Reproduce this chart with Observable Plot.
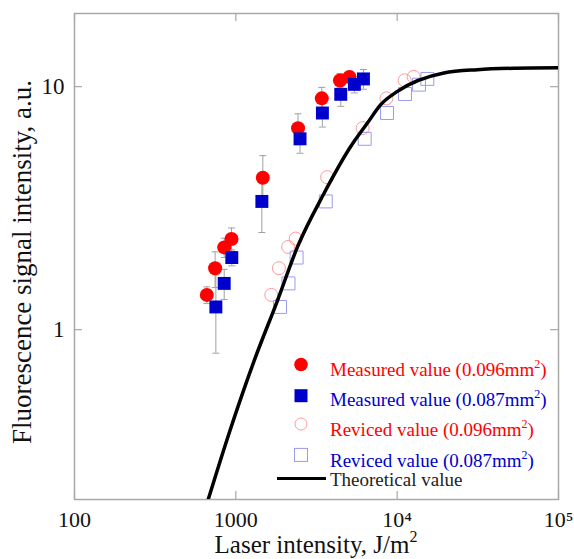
<!DOCTYPE html>
<html>
<head>
<meta charset="utf-8">
<script src="https://cdn.jsdelivr.net/npm/d3@7"></script>
<script src="https://cdn.jsdelivr.net/npm/@observablehq/plot@0.6"></script>
<style>
  html, body { margin: 0; padding: 0; background: #fff; }
  #wrap { position: relative; width: 574px; height: 559px; overflow: hidden; }
  #wrap svg.overlay { position: absolute; left: 0; top: 0; pointer-events: none; }
  text { font-family: "Liberation Serif", "Times New Roman", serif; }
</style>
</head>
<body>
<div id="wrap"></div>
<script>
// ---- data ----
const xMeas096 = [661, 744, 847, 940, 1470, 2430, 3410, 4420, 5060];
const yMeas096 = [1.39, 1.79, 2.18, 2.36, 4.22, 6.75, 8.95, 10.6, 10.97];
const eMeas096 = [0.11, 0.30, 0.20, 0.26, 0.98, 0.98, 0.98, 0.73, 0.6];

const xMeas087 = [752, 847, 944, 1450, 2500, 3440, 4470, 5430, 6180];
const yMeas087 = [1.24, 1.55, 1.98, 3.37, 6.10, 7.79, 9.30, 10.22, 10.76];
const eMeas087 = [0.44, 0.22, 0.15, 0.86, 0.78, 0.97, 1.0, 0.8, 1.0];

const xRev096 = [1660, 1850, 2110, 2350, 3680, 6110, 8580, 11130, 12650];
const yRev096 = [1.39, 1.79, 2.19, 2.37, 4.24, 6.75, 8.95, 10.62, 10.97];

const xRev087 = [1880, 2120, 2380, 3610, 6290, 8650, 11180, 13650, 15380];
const yRev087 = [1.24, 1.55, 1.98, 3.37, 6.10, 7.79, 9.33, 10.19, 10.76];

const xTheory = [671, 918, 1298, 1812, 2410, 3523, 5153, 6540, 7907, 10030, 19490, 31390, 52850, 100000];
const yTheory = [0.198, 0.383, 0.744, 1.318, 2.19, 3.64, 5.67, 7.08, 8.43, 9.56, 11.39, 11.75, 11.90, 11.95];

const xTicks = [100, 1000, 10000, 100000];
const xTickLabels = ["100", "1000", "10\u2074", "10\u2075"];
const yTicks = [1, 10];
const yTickLabels = ["1", "10"];

const legendLabels = ["Measured value (0.096mm", "Measured value (0.087mm", "Reviced value (0.096mm", "Reviced value (0.087mm", "Theoretical value"];
const xTitle = "Laser intensity, J/m";
const yTitle = "Fluorescence signal intensity, a.u.";

// ---- build tables ----
const meas096 = xMeas096.map((x, i) => ({x, y: yMeas096[i], e: eMeas096[i]}));
const meas087 = xMeas087.map((x, i) => ({x, y: yMeas087[i], e: eMeas087[i]}));
const rev096 = xRev096.map((x, i) => ({x, y: yRev096[i]}));
const rev087 = xRev087.map((x, i) => ({x, y: yRev087[i]}));
const theory = xTheory.map((x, i) => ({x, y: yTheory[i]}));

const RED = "#ff0000", BLUE = "#0000cc", LRED = "#ff9a9a", LBLUE = "#9a9af0", GREY = "#a8a8a8", ERR = "#a0a0a0";
const FONT = "'Liberation Serif', 'Times New Roman', serif";

const capSymbol = {
  draw(ctx, size) { const r = Math.sqrt(size / Math.PI); ctx.moveTo(-r, 0); ctx.lineTo(r, 0); }
};

const W = 574, H = 559, mL = 74, mR = 16, mT = 13, mB = 60;
const innerH = H - mT - mB, innerW = W - mL - mR;
const tickLen = 8;

const errMarks = (data) => [
  Plot.ruleX(data, {x: "x", y1: d => d.y - d.e, y2: d => d.y + d.e, stroke: ERR, strokeWidth: 1}),
  Plot.dot(data, {x: "x", y: d => d.y + d.e, symbol: capSymbol, r: 3.5, stroke: ERR, strokeWidth: 1}),
  Plot.dot(data, {x: "x", y: d => d.y - d.e, symbol: capSymbol, r: 3.5, stroke: ERR, strokeWidth: 1})
];

const chart = Plot.plot({
  width: W, height: H,
  marginLeft: mL, marginRight: mR, marginTop: mT, marginBottom: mB,
  x: {type: "log", domain: [100, 100000], axis: null},
  y: {type: "log", domain: [0.2, 20], axis: null},
  style: {fontFamily: FONT, background: "#fff", color: "#111"},
  marks: [
    Plot.frame({stroke: GREY, strokeWidth: 1.5}),
    Plot.tickX(xTicks, {x: d => d, insetTop: innerH - tickLen, stroke: GREY, strokeWidth: 1.2}),
    Plot.tickX(xTicks, {x: d => d, insetBottom: innerH - tickLen, stroke: GREY, strokeWidth: 1.2}),
    Plot.tickY(yTicks, {y: d => d, insetRight: innerW - tickLen, stroke: GREY, strokeWidth: 1.2}),
    Plot.tickY(yTicks, {y: d => d, insetLeft: innerW - tickLen, stroke: GREY, strokeWidth: 1.2}),
    Plot.text(xTicks, {x: d => d, text: (d, i) => xTickLabels[i], frameAnchor: "bottom", lineAnchor: "middle", dy: 20, fontSize: 22, fill: "#111"}),
    Plot.text(yTicks, {y: d => d, text: (d, i) => yTickLabels[i], frameAnchor: "left", textAnchor: "end", dx: -10, fontSize: 23, fill: "#111"}),
    ...errMarks(meas096),
    ...errMarks(meas087),
    Plot.dot(rev096, {x: "x", y: "y", r: 6.5, fill: "none", stroke: LRED, strokeWidth: 1}),
    Plot.dot(rev087, {x: "x", y: "y", symbol: "square", r: 7.3, fill: "none", stroke: LBLUE, strokeWidth: 1}),
    Plot.line(theory, {x: "x", y: "y", stroke: "#000", strokeWidth: 3.5, curve: "monotone-x", clip: true}),
    Plot.dot(meas096, {x: "x", y: "y", r: 7, fill: RED, stroke: "none"}),
    Plot.dot(meas087, {x: "x", y: "y", symbol: "square", r: 7.3, fill: BLUE, stroke: "none"})
  ]
});

const wrap = document.getElementById("wrap");
wrap.appendChild(chart);

// ---- overlay: axis titles and legend ----
const ov = d3.select(wrap).append("svg")
  .attr("class", "overlay").attr("width", W).attr("height", H)
  .style("font-family", FONT);

// x title
const xt = ov.append("text").attr("x", (mL + W - mR) / 2).attr("y", 553)
  .attr("text-anchor", "middle").attr("font-size", 25).attr("fill", "#111");
xt.append("tspan").text(xTitle);
xt.append("tspan").attr("font-size", 16).attr("dy", -11).text("2");

// y title
ov.append("text").attr("transform", `translate(31,262) rotate(-90)`)
  .attr("text-anchor", "middle").attr("font-size", 27).attr("fill", "#111").text(yTitle);

// legend
const lx = 301, tx = 330;
const rows = [
  {cy: 364.5, base: 375.5, color: RED, sym: "fcircle"},
  {cy: 395.7, base: 406, color: BLUE, sym: "fsquare"},
  {cy: 424, base: 436.3, color: RED, sym: "ocircle"},
  {cy: 454.9, base: 466.7, color: BLUE, sym: "osquare"},
  {cy: 478.5, base: 486, color: "#222", sym: "line"}
];
rows.forEach((r, i) => {
  if (r.sym === "fcircle") ov.append("circle").attr("cx", lx).attr("cy", r.cy).attr("r", 6.8).attr("fill", RED);
  if (r.sym === "fsquare") ov.append("rect").attr("x", lx - 6.5).attr("y", r.cy - 6.5).attr("width", 13).attr("height", 13).attr("fill", BLUE);
  if (r.sym === "ocircle") ov.append("circle").attr("cx", lx).attr("cy", r.cy).attr("r", 6).attr("fill", "none").attr("stroke", LRED);
  if (r.sym === "osquare") ov.append("rect").attr("x", lx - 6.5).attr("y", r.cy - 6.5).attr("width", 13).attr("height", 13).attr("fill", "none").attr("stroke", LBLUE);
  if (r.sym === "line") ov.append("line").attr("x1", 277).attr("x2", 326).attr("y1", r.cy).attr("y2", r.cy).attr("stroke", "#000").attr("stroke-width", 3);
  const t = ov.append("text").attr("x", tx).attr("y", r.base).attr("font-size", 19).attr("fill", r.color);
  t.append("tspan").text(legendLabels[i]);
  if (i < 4) {
    t.append("tspan").attr("font-size", 12).attr("dy", -8).text("2");
    t.append("tspan").attr("dy", 8).text(")");
  }
});
</script>
</body>
</html>
